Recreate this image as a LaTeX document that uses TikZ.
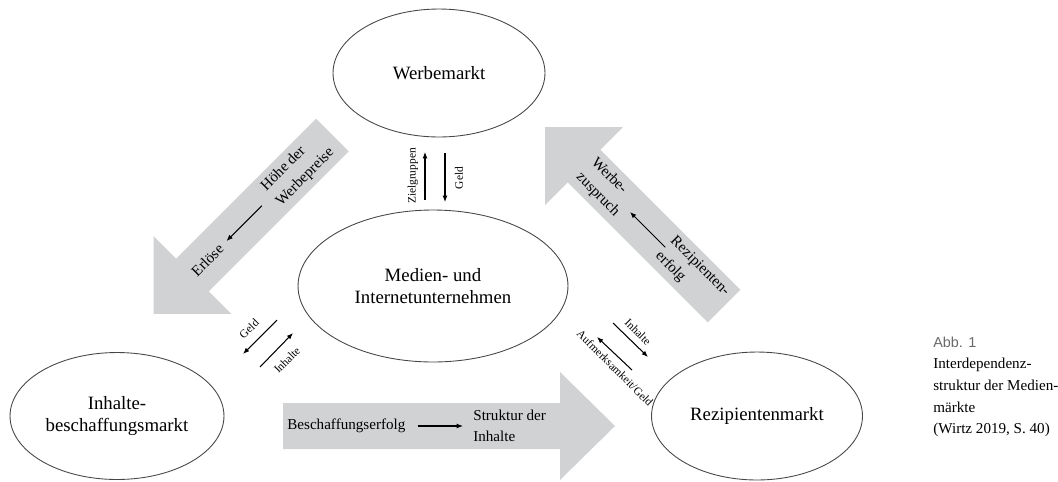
\documentclass[tikz,border=0pt]{standalone}
\usepackage{fontspec}
\setmainfont{Liberation Serif}
\newfontfamily\capsans{Liberation Sans}
\usetikzlibrary{positioning,arrows.meta,shapes.geometric}
\definecolor{arrowgray}{RGB}{209,210,212}
\definecolor{linegray}{RGB}{70,70,70}
\definecolor{capgray}{RGB}{105,105,105}

\begin{document}
\begin{tikzpicture}[
    x=0.02cm, y=-0.02cm,
    market/.style={draw=linegray, ellipse, line width=0.5pt, inner sep=0pt,
                   align=center, font=\fontsize{10.7}{12.7}\selectfont},
    bigarrow/.style={fill=arrowgray},
    flowtext/.style={inner sep=0pt, align=left,
                     font=\fontsize{8.6}{12}\selectfont},
    pairlabel/.style={inner sep=0pt, font=\fontsize{6.5}{7.5}\selectfont},
    thinarr/.style={line width=0.6pt, -{Latex[length=3.6pt,width=2.8pt]}},
]
\useasboundingbox (0,0) rectangle (1058,481);

% grosse Pfeile
\fill[bigarrow] (283,403) -- (560,403) -- (560,372) -- (615,426)
    -- (560,480) -- (560,449) -- (283,449) -- cycle;
\node[flowtext, anchor=west] (bes) at (287,426) {Beschaffungserfolg};
\node[flowtext, anchor=west] (str) at (473,426) {Struktur der\\Inhalte};
\draw[thinarr, shorten <=6.8pt, shorten >=5.7pt] (bes) -- (str);

\begin{scope}[shift={(332.5,135)}, rotate=225]
  \fill[bigarrow] (0,-23) -- (198,-23) -- (198,-55) -- (253,0)
      -- (198,55) -- (198,23) -- (0,23) -- cycle;
  \node[flowtext, rotate=45] (hw) at (49,0) {Höhe der\\Werbepreise};
  \node[flowtext, rotate=45] (erl) at (177,0) {Erlöse};
  \coordinate (hw-s) at (100,0);
  \coordinate (hw-e) at (150,0);
\end{scope}
\draw[thinarr] (hw-s) -- (hw-e);

\begin{scope}[shift={(724,306)}, rotate=135]
  \fill[bigarrow] (0,-23) -- (198,-23) -- (198,-55) -- (253,0)
      -- (198,55) -- (198,23) -- (0,23) -- cycle;
  \node[flowtext, rotate=-45] (rez) at (45,0) {Rezipienten-\\erfolg};
  \node[flowtext, rotate=-45] (wz) at (168,0) {Werbe-\\zuspruch};
  \coordinate (rez-s) at (83,0);
  \coordinate (rez-e) at (133,0);
\end{scope}
\draw[thinarr] (rez-s) -- (rez-e);

% Maerkte
\node[market, minimum width=4.24cm, minimum height=2.56cm] (wm) at (439,73)
    {Werbemarkt};
\node[market, minimum width=5.4cm, minimum height=3.04cm] (mu) at (433,286)
    {Medien- und\\Internetunternehmen};
\node[market, minimum width=4.28cm, minimum height=2.54cm] (ib) at (117,416)
    {Inhalte-\\beschaffungsmarkt};
\node[market, minimum width=4.22cm, minimum height=2.56cm] (rm) at (757,416)
    {Rezipientenmarkt};

% kleine Pfeile
\coordinate (zg-s) at (425,200);
\coordinate (zg-e) at (425,152);
\coordinate (gw-s) at (445,153);
\coordinate (gw-e) at (445,202);
\draw[thinarr] (zg-s) -- (zg-e);
\draw[thinarr] (gw-s) -- (gw-e);
\node[pairlabel, rotate=90] (zg) at (413,176) {Zielgruppen};
\node[pairlabel, rotate=90] (gw) at (459,178) {Geld};

\coordinate (gi-s) at (277,320);
\coordinate (gi-e) at (243,354);
\coordinate (ii-s) at (260,367);
\coordinate (ii-e) at (293,333);
\draw[thinarr] (gi-s) -- (gi-e);
\draw[thinarr] (ii-s) -- (ii-e);
\node[pairlabel, rotate=45] (gi) at (249,329) {Geld};
\node[pairlabel, rotate=45] (ii) at (287,360) {Inhalte};

\coordinate (ir-s) at (613,323);
\coordinate (ir-e) at (648,357);
\coordinate (ar-s) at (632,370);
\coordinate (ar-e) at (597,337);
\draw[thinarr] (ir-s) -- (ir-e);
\draw[thinarr] (ar-s) -- (ar-e);
\node[pairlabel, rotate=-45] (ir) at (638,332) {Inhalte};
\node[pairlabel, rotate=-45] (ar) at (615,368) {Aufmerksamkeit/Geld};

% Bildunterschrift
\node[anchor=west, inner sep=0pt, text=capgray,
      font=\capsans\fontsize{8.2}{9}\selectfont] (abb) at (933,342) {Abb. 1};
\node[anchor=north west, inner sep=0pt, align=left,
      font=\fontsize{8.6}{12.3}\selectfont] (cap) at (933,358)
    {Interdependenz-\\struktur der Medien-\\märkte\\(Wirtz 2019, S. 40)};
\end{tikzpicture}
\end{document}
